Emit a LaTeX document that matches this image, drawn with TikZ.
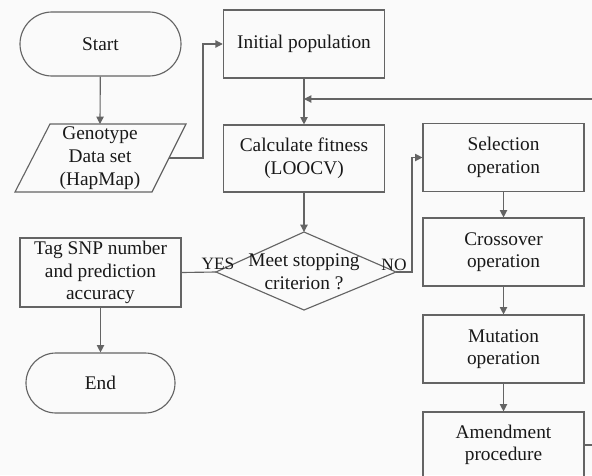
\documentclass[tikz,border=0pt]{standalone}
\usepackage{fontspec}
\setmainfont{Liberation Serif}
\usetikzlibrary{arrows.meta,calc}
\definecolor{linec}{RGB}{100,100,100}
\definecolor{textc}{RGB}{25,25,25}
\definecolor{bgc}{RGB}{250,250,250}
\tikzset{
  box/.style={draw=linec, line width=0.85pt, rectangle, inner sep=0pt, align=center, text=textc,
    minimum width=121pt, minimum height=51pt, font=\fontsize{14.5}{17}\selectfont},
  term/.style={box, rounded corners=23pt},
  txt/.style={inner sep=0pt, align=center, text=textc, font=\fontsize{14.5}{17}\selectfont},
  lbl/.style={inner sep=0pt, text=textc, font=\fontsize{13}{14}\selectfont},
  conn/.style={draw=linec, line width=0.85pt},
  arr/.style={conn, -{Triangle[length=5.5pt,width=5.5pt]}},
}
\begin{document}
\begin{tikzpicture}[x=0.75pt,y=-0.75pt]
\useasboundingbox (0,0) rectangle (592,475);
\clip (0,0) rectangle (592,475);
\fill[bgc] (0,0) rectangle (592,475);

% left column
\node[term, minimum width=120.75pt, minimum height=48pt, rounded corners=24pt] (start) at (100.5,44) {Start};
\coordinate (gtl) at (50,124);
\coordinate (gtr) at (186,124);
\coordinate (gbr) at (152,192);
\coordinate (gbl) at (15,192);
\draw[conn] (gtl) -- (gtr) -- (gbr) -- (gbl) -- cycle;
\node[txt] (geno) at (100,158) {Genotype\\Data set\\(HapMap)};
\coordinate (gout) at (169,158);
\node[box, minimum width=120.75pt, minimum height=51.75pt] (tag) at (100.5,272.5) {Tag SNP number\\and prediction\\accuracy};
\node[term, minimum width=111.75pt, minimum height=45pt, rounded corners=22.5pt] (end) at (100.5,383) {End};

% middle column
\node[box, minimum height=51pt] (init) at (304,44) {Initial population};
\node[box, minimum height=50.25pt] (calc) at (304,158.5) {Calculate fitness\\(LOOCV)};
\coordinate (dtop) at (304,232);
\coordinate (dbot) at (304,310);
\coordinate (dleft) at (216,272);
\coordinate (dright) at (396,272);
\draw[conn] (dtop) -- (dright) -- (dbot) -- (dleft) -- cycle;
\node[txt] (dec) at (304,272) {Meet stopping\\criterion ?};
\node[lbl] (yes) at (218,264) {YES};
\node[lbl] (no) at (394,265) {NO};

% right column
\node[box, minimum width=120.75pt] (sel) at (503.5,157.5) {Selection\\operation};
\node[box, minimum width=120.75pt] (cross) at (503.5,252) {Crossover\\operation};
\node[box, minimum width=120.75pt] (mut) at (503.5,349) {Mutation\\operation};
\node[box, minimum width=120.75pt, minimum height=49.5pt] (amend) at (503.5,445) {Amendment\\procedure};

% connectors
\draw[arr] (start) -- (100,124);
\draw[arr] (gout) -- (203,158) |- (init.west);
\draw[arr] (init) -- (calc);
\draw[arr] (calc) -- (dtop);
\draw[conn] (dleft) -- (tag.east);
\draw[arr] (tag) -- (end);
\draw[arr] (dright) -- (412,272) |- (sel.west);
\draw[arr] (sel) -- (cross);
\draw[arr] (cross) -- (mut);
\draw[arr] (mut) -- (amend);
\coordinate (loopR) at (620,445);
\coordinate (loopT) at (304,99);
\draw[arr] (amend.east) -- (loopR) |- (loopT);
\end{tikzpicture}
\end{document}
